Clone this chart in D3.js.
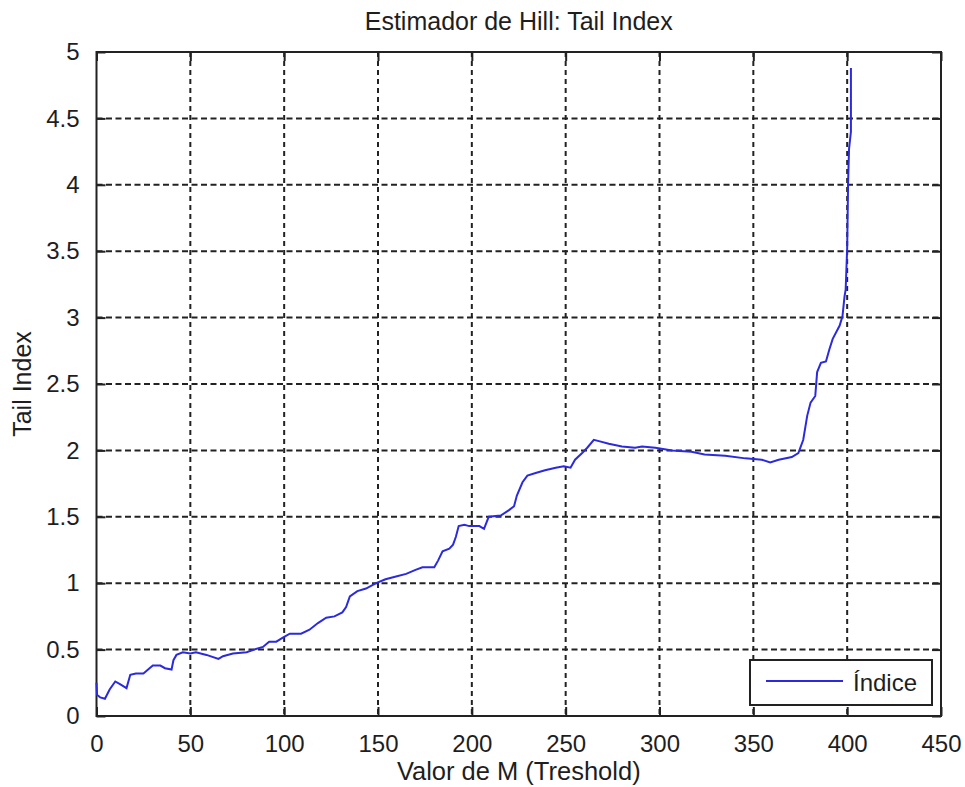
<!DOCTYPE html>
<html>
<head>
<meta charset="utf-8">
<script src="https://cdn.jsdelivr.net/npm/d3@7"></script>
<style>
  body { margin: 0; background: #fff; }
  text { font-family: Arial, "Liberation Sans", sans-serif; fill: #1e1e1e; }
</style>
</head>
<body>
<div id="chart"></div>
<script>
// Hill estimator: threshold M vs tail index
var mValues = [0, 0.3, 2, 4.5, 7, 10, 12.5, 16, 18, 21, 25, 27.5, 30, 34, 36.5, 40, 41, 42.6, 46, 50,
  53, 58.6, 65, 67.4, 72.7, 80, 84, 88.7, 92, 95.8, 99.3, 103, 109, 113.5, 118, 122.4, 126.8, 131, 133, 135,
  139, 143.6, 149, 154, 159.6, 165, 170, 173.7, 180, 182, 184.4, 188, 190, 191.5, 193, 196, 198.6, 204,
  206.5, 209, 215.4, 219.8, 222.5, 224, 227, 229.6, 234, 239, 244.7, 249, 252.6, 255, 258.8, 261.5, 265,
  267.7, 273, 280, 287, 290.7, 297.8, 306.7, 317, 324, 335, 345.7, 354.5, 359, 363.5, 370.5, 374, 376.6,
  378.7, 380.5, 383, 384, 386, 388.7, 390.5, 392.3, 396, 397.5, 398.6, 399.2, 400, 400.5, 401, 402, 402];
var tailIndex = [0.25, 0.16, 0.14, 0.13, 0.2, 0.26, 0.24, 0.21, 0.31, 0.32, 0.32, 0.35, 0.38, 0.38, 0.36, 0.35, 0.42, 0.46, 0.48, 0.47,
  0.48, 0.46, 0.43, 0.45, 0.47, 0.48, 0.5, 0.52, 0.56, 0.56, 0.59, 0.62, 0.62, 0.65, 0.7, 0.74, 0.75, 0.78, 0.82, 0.9,
  0.94, 0.96, 1.0, 1.03, 1.05, 1.07, 1.1, 1.12, 1.12, 1.17, 1.24, 1.26, 1.29, 1.35, 1.43, 1.44, 1.43, 1.43,
  1.41, 1.5, 1.51, 1.55, 1.58, 1.66, 1.76, 1.81, 1.83, 1.85, 1.87, 1.88, 1.87, 1.93, 1.98, 2.02, 2.08,
  2.07, 2.05, 2.03, 2.02, 2.03, 2.02, 2.0, 1.99, 1.97, 1.96, 1.94, 1.93, 1.91, 1.93, 1.95, 1.98, 2.08,
  2.26, 2.36, 2.41, 2.59, 2.66, 2.67, 2.76, 2.84, 2.94, 3.01, 3.16, 3.21, 3.52, 4.02, 4.27, 4.4, 4.88];
var xTicks = [0, 50, 100, 150, 200, 250, 300, 350, 400, 450];
var yTicks = [0, 0.5, 1, 1.5, 2, 2.5, 3, 3.5, 4, 4.5, 5];
var seriesName = "Índice";

var margin = { top: 52, right: 24, bottom: 71, left: 96.5 };
var width = 965 - margin.left - margin.right;
var height = 787 - margin.top - margin.bottom;

var svg = d3.select("#chart")
  .append("svg")
  .attr("width", 965)
  .attr("height", 787)
  .append("g")
  .attr("transform", "translate(" + margin.left + "," + margin.top + ")");

var x = d3.scaleLinear().domain([0, 450]).range([0, width]);
var y = d3.scaleLinear().domain([0, 5]).range([height, 0]);

// grid
svg.append("g")
  .selectAll("line")
  .data(xTicks.slice(1, -1))
  .enter()
  .append("line")
  .attr("x1", function (d) { return x(d); })
  .attr("x2", function (d) { return x(d); })
  .attr("y1", 0)
  .attr("y2", height)
  .style("stroke", "#222")
  .style("stroke-width", 2)
  .style("stroke-dasharray", "5,4");

svg.append("g")
  .selectAll("line")
  .data(yTicks.slice(1, -1))
  .enter()
  .append("line")
  .attr("x1", 0)
  .attr("x2", width)
  .attr("y1", function (d) { return y(d); })
  .attr("y2", function (d) { return y(d); })
  .style("stroke", "#222")
  .style("stroke-width", 2)
  .style("stroke-dasharray", "6,3.5");

// axes, ticks pointing inwards like matlab
svg.append("g")
  .attr("transform", "translate(0," + height + ")")
  .call(d3.axisBottom(x).tickValues(xTicks).tickSizeInner(-9).tickSizeOuter(0).tickPadding(19));
svg.append("g")
  .call(d3.axisLeft(y).tickValues(yTicks).tickFormat(d3.format("")).tickSizeInner(-9).tickSizeOuter(0).tickPadding(17));
svg.append("g")
  .call(d3.axisTop(x).tickValues(xTicks).tickSizeInner(-9).tickSizeOuter(0).tickFormat(""));
svg.append("g")
  .attr("transform", "translate(" + width + ",0)")
  .call(d3.axisRight(y).tickValues(yTicks).tickSizeInner(-9).tickSizeOuter(0).tickFormat(""));

svg.selectAll(".domain").remove();
svg.selectAll(".tick line").style("stroke", "#222").style("stroke-width", 2);
svg.selectAll(".tick text")
  .style("font-size", "24px")
  .style("font-family", "Arial, 'Liberation Sans', sans-serif")
  .style("fill", "#1e1e1e");

svg.append("rect")
  .attr("width", width)
  .attr("height", height)
  .style("fill", "none")
  .style("stroke", "#222")
  .style("stroke-width", 2);

// the curve
var line = d3.line()
  .x(function (d, i) { return x(mValues[i]); })
  .y(function (d) { return y(d); });

svg.append("path")
  .datum(tailIndex)
  .attr("d", line)
  .style("fill", "none")
  .style("stroke", "#2b2bdd")
  .style("stroke-width", 2);

// legend
var legend = svg.append("g")
  .attr("transform", "translate(" + (width - 191) + "," + (height - 56) + ")");
legend.append("rect")
  .attr("width", 182)
  .attr("height", 45)
  .style("fill", "#fff")
  .style("stroke", "#222")
  .style("stroke-width", 2);
legend.append("line")
  .attr("x1", 16)
  .attr("x2", 93)
  .attr("y1", 21)
  .attr("y2", 21)
  .style("stroke", "#2b2bdd")
  .style("stroke-width", 2);
legend.append("text")
  .attr("x", 103)
  .attr("y", 31)
  .style("font-size", "24px")
  .text(seriesName);

// titles
svg.append("text")
  .attr("x", width / 2)
  .attr("y", -22)
  .attr("text-anchor", "middle")
  .style("font-size", "25px")
  .text("Estimador de Hill: Tail Index");

svg.append("text")
  .attr("x", width / 2)
  .attr("y", height + 64)
  .attr("text-anchor", "middle")
  .style("font-size", "25.5px")
  .text("Valor de M (Treshold)");

svg.append("text")
  .attr("transform", "rotate(-90)")
  .attr("x", -(height / 2))
  .attr("y", -66)
  .attr("text-anchor", "middle")
  .style("font-size", "25px")
  .text("Tail Index");
</script>
</body>
</html>
